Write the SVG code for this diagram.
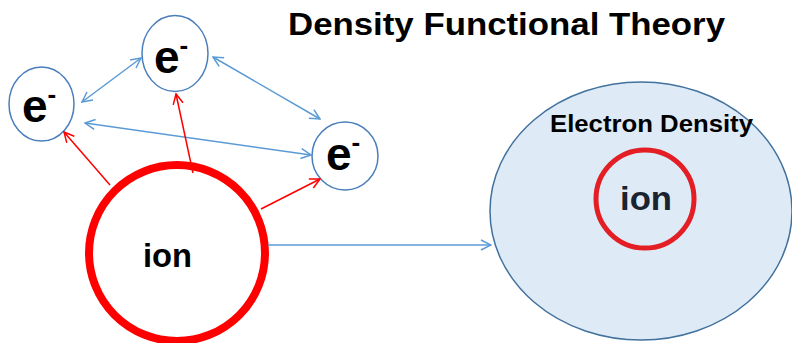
<svg xmlns="http://www.w3.org/2000/svg" width="792" height="343" viewBox="0 0 792 343">
<defs>
<style>
text{font-family:"Liberation Sans",Arial,sans-serif;font-weight:bold;fill:#000}
.el{fill:#fff;stroke:#4A7EBB;stroke-width:1.5}
.bl{stroke:#5B9BD5;stroke-width:1.5;fill:none}
.rd{stroke:#FF0000;stroke-width:1.5;fill:none}
.e{font-size:46px}
.sup{font-size:26px}
</style>
<marker id="ab" viewBox="0 0 12 12" refX="11" refY="6" markerWidth="12" markerHeight="12" markerUnits="userSpaceOnUse" orient="auto-start-reverse">
<path d="M1,1 L11,6 L1,11" fill="none" stroke="#5B9BD5" stroke-width="1.5"/>
</marker>
<marker id="ar" viewBox="0 0 12 12" refX="11" refY="6" markerWidth="12" markerHeight="12" markerUnits="userSpaceOnUse" orient="auto">
<path d="M1,1 L11,6 L1,11" fill="none" stroke="#FF0000" stroke-width="1.5"/>
</marker>
</defs>
<rect width="792" height="343" fill="#fff"/>
<text x="288" y="35" font-size="32" textLength="437" lengthAdjust="spacingAndGlyphs">Density Functional Theory</text>
<g id="density">
<ellipse cx="641" cy="211" rx="151" ry="129" fill="#DEEBF7" stroke="#41719C" stroke-width="1.5"/>
<text x="550" y="132" font-size="23" textLength="203" lengthAdjust="spacingAndGlyphs">Electron Density</text>
</g>
<g id="ion2">
<circle cx="645" cy="199" r="49" fill="none" stroke="#E31E24" stroke-width="5"/>
<text x="620" y="210" font-size="33" fill="#1A2330" style="fill:#1A2330" textLength="52" lengthAdjust="spacingAndGlyphs">ion</text>
</g>
<g id="ion1">
<circle cx="177" cy="253" r="88" fill="#fff" stroke="#FF0000" stroke-width="8"/>
<text x="143" y="267" font-size="33" textLength="49" lengthAdjust="spacingAndGlyphs">ion</text>
</g>
<g id="e1">
<ellipse class="el" cx="41.5" cy="104" rx="32.5" ry="37"/>
<text class="e" x="22" y="122">e<tspan class="sup" dy="-19">-</tspan></text>
</g>
<g id="e2">
<ellipse class="el" cx="175" cy="53.5" rx="33" ry="38"/>
<text class="e" x="154" y="73">e<tspan class="sup" dy="-19">-</tspan></text>
</g>
<g id="e3">
<ellipse class="el" cx="345" cy="156" rx="33" ry="34"/>
<text class="e" x="326" y="170">e<tspan class="sup" dy="-19">-</tspan></text>
</g>
<g id="connectors">
<line class="bl" x1="82" y1="102" x2="141" y2="58" marker-start="url(#ab)" marker-end="url(#ab)"/>
<line class="bl" x1="213" y1="57" x2="320" y2="119" marker-start="url(#ab)" marker-end="url(#ab)"/>
<line class="bl" x1="85" y1="123" x2="311" y2="155" marker-start="url(#ab)" marker-end="url(#ab)"/>
<line class="bl" x1="268" y1="245" x2="491" y2="245" marker-end="url(#ab)"/>
<line class="rd" x1="110" y1="185" x2="64" y2="132" marker-end="url(#ar)"/>
<line class="rd" x1="193" y1="173" x2="176" y2="94" marker-end="url(#ar)"/>
<line class="rd" x1="261" y1="209" x2="320" y2="179" marker-end="url(#ar)"/>
</g>
</svg>
